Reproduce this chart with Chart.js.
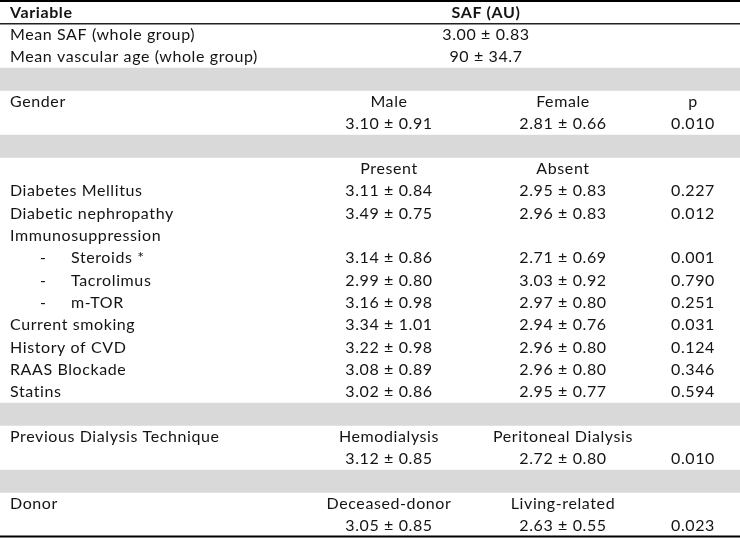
<!DOCTYPE html>
<html><head><meta charset="utf-8">
<script src="https://cdn.jsdelivr.net/npm/chart.js@4"></script>
<style>html,body{margin:0;padding:0;background:#fff}#wrap{width:740px;height:538px}</style>
</head><body><div id="wrap"><canvas id="c" width="740" height="538"></canvas></div>
<script>
// ---- table content (one entry per row) ----
const rowLabels = [
  "Variable", "Mean SAF (whole group)", "Mean vascular age (whole group)", "",
  "Gender", "", "",
  "", "Diabetes Mellitus", "Diabetic nephropathy", "Immunosuppression",
  "", "", "",
  "Current smoking", "History of CVD", "RAAS Blockade", "Statins", "",
  "Previous Dialysis Technique", "", "",
  "Donor", ""
];
const subLabels = [
  "", "", "", "", "", "", "", "", "", "", "",
  "Steroids *", "Tacrolimus", "m-TOR",
  "", "", "", "", "", "", "", "", "", ""
];
const spanValues = [
  "SAF (AU)", "3.00 \u00b1 0.83", "90 \u00b1 34.7", "", "", "", "", "", "", "", "",
  "", "", "", "", "", "", "", "", "", "", "", "", ""
];
const firstValues = [
  "", "", "", "", "Male", "3.10 \u00b1 0.91", "",
  "Present", "3.11 \u00b1 0.84", "3.49 \u00b1 0.75", "",
  "3.14 \u00b1 0.86", "2.99 \u00b1 0.80", "3.16 \u00b1 0.98",
  "3.34 \u00b1 1.01", "3.22 \u00b1 0.98", "3.08 \u00b1 0.89", "3.02 \u00b1 0.86", "",
  "Hemodialysis", "3.12 \u00b1 0.85", "",
  "Deceased-donor", "3.05 \u00b1 0.85"
];
const secondValues = [
  "", "", "", "", "Female", "2.81 \u00b1 0.66", "",
  "Absent", "2.95 \u00b1 0.83", "2.96 \u00b1 0.83", "",
  "2.71 \u00b1 0.69", "3.03 \u00b1 0.92", "2.97 \u00b1 0.80",
  "2.94 \u00b1 0.76", "2.96 \u00b1 0.80", "2.96 \u00b1 0.80", "2.95 \u00b1 0.77", "",
  "Peritoneal Dialysis", "2.72 \u00b1 0.80", "",
  "Living-related", "2.63 \u00b1 0.55"
];
const pValues = [
  "", "", "", "", "p", "0.010", "",
  "", "0.227", "0.012", "",
  "0.001", "0.790", "0.251",
  "0.031", "0.124", "0.346", "0.594", "",
  "", "0.010", "",
  "", "0.023"
];
const separatorRows = [3, 6, 18, 21];

// ---- layout / style ----
const W = 740;
const cols = { label: 10, dash: 40, sub: 71, span: 486, first: 389, second: 563, p: 693 };
const FONT = 'Lato, "Open Sans", sans-serif';
const FS = 16;
const TEXT = '#141414';

const rowIds = rowLabels.map((_, i) => String(i));
const bandData = rowIds.map((_, i) => separatorRows.includes(i) ? [0, W] : null);

const tablePlugin = {
  id: 'tableText',
  afterDatasetsDraw(chart) {
    const { ctx, scales: { x, y }, chartArea } = chart;
    const rowH = (chartArea.bottom - chartArea.top) / rowIds.length;
    ctx.save();
    ctx.textBaseline = 'middle';
    ctx.fillStyle = TEXT;
    ctx.letterSpacing = '0.6px';
    const put = (txt, col, align, bold, yy) => {
      if (!txt) return;
      ctx.font = (bold ? 'bold ' : '') + FS + 'px ' + FONT;
      ctx.textAlign = align;
      ctx.fillText(txt, x.getPixelForValue(col), yy);
    };
    rowIds.forEach((_, i) => {
      const yy = y.getPixelForValue(i) + 0.5;
      const bold = i === 0;
      put(rowLabels[i], cols.label, 'left', bold, yy);
      if (subLabels[i]) { put('-', cols.dash, 'left', false, yy); put(subLabels[i], cols.sub, 'left', false, yy); }
      put(spanValues[i], cols.span, 'center', bold, yy);
      put(firstValues[i], cols.first, 'center', false, yy);
      put(secondValues[i], cols.second, 'center', false, yy);
      put(pValues[i], cols.p, 'center', false, yy);
    });
    // rules
    const hline = (yy, w, c) => {
      ctx.beginPath(); ctx.lineWidth = w; ctx.strokeStyle = c;
      ctx.moveTo(x.getPixelForValue(0), yy); ctx.lineTo(x.getPixelForValue(W), yy); ctx.stroke();
    };
    hline(chartArea.top, 2, '#000');
    hline(chartArea.top + rowH + 0.5, 1.5, '#222');
    hline(chartArea.bottom - 0.5, 2, '#000');
    ctx.restore();
  }
};

new Chart(document.getElementById('c'), {
  type: 'bar',
  data: {
    labels: rowIds,
    datasets: [{
      data: bandData,
      backgroundColor: '#d9d9d9',
      borderWidth: 0,
      barPercentage: 1,
      categoryPercentage: 1
    }]
  },
  options: {
    indexAxis: 'y',
    responsive: false,
    animation: false,
    layout: { padding: { top: 1, bottom: 1, left: 0, right: 0 } },
    plugins: { legend: { display: false }, tooltip: { enabled: false } },
    scales: {
      x: { type: 'linear', min: 0, max: W, display: false },
      y: { type: 'category', display: false, offset: true, grid: { display: false } }
    }
  },
  plugins: [tablePlugin]
});
</script>
</body></html>
